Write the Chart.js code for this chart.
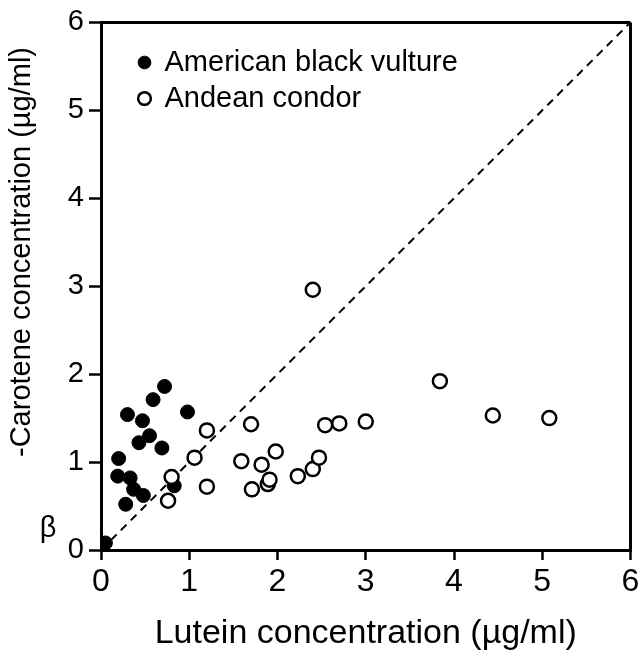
<!DOCTYPE html>
<html>
<head>
<meta charset="utf-8">
<script src="https://cdn.jsdelivr.net/npm/chart.js@4"></script>
<style>
  html, body { margin: 0; padding: 0; background: #fff; }
  #wrap { width: 640px; height: 661px; }
</style>
</head>
<body>
<div id="wrap"><canvas id="carotenoidChart"></canvas></div>
<script>
// Lutein (x) vs beta-carotene (y), values in ug/ml

var vultureLutein   = [0.05, 0.20, 0.19, 0.30, 0.33, 0.37, 0.28, 0.48, 0.43, 0.47, 0.55, 0.59, 0.69, 0.72, 0.83, 0.98];
var vultureCarotene = [0.08, 1.04, 0.84, 1.54, 0.82, 0.69, 0.52, 0.62, 1.22, 1.47, 1.30, 1.71, 1.16, 1.86, 0.73, 1.57];

var condorLutein   = [0.76, 0.80, 1.06, 1.20, 1.20, 1.59, 1.70, 1.71, 1.82, 1.89, 1.91, 1.98, 2.23, 2.40, 2.40, 2.47, 2.54, 2.70, 3.00, 3.84, 4.44, 5.08];
var condorCarotene = [0.56, 0.83, 1.05, 1.36, 0.72, 1.01, 1.43, 0.69, 0.97, 0.75, 0.80, 1.12, 0.84, 0.92, 2.96, 1.05, 1.42, 1.44, 1.46, 1.92, 1.53, 1.50];

var identityLine = [0, 6];
var axisTicks = [0, 1, 2, 3, 4, 5, 6];

var seriesNames = ['American black vulture', 'Andean condor'];
var xTitle = 'Lutein concentration (\u00b5g/ml)';
var yTitle = '-Carotene concentration (\u00b5g/ml)';
var yTitleBeta = '\u03b2';

var FONT = '"Liberation Sans", Arial, sans-serif';

function toPoints(xs, ys) {
    return xs.map(function (x, i) { return { x: x, y: ys[i] }; });
}

// y title is drawn by hand: the beta sits apart from the rest, as in the original
var yTitlePlugin = {
    id: 'yTitle',
    afterDraw: function (chart) {
        var ctx = chart.ctx;
        ctx.save();
        ctx.fillStyle = '#000';
        ctx.font = '29px ' + FONT;
        ctx.textAlign = 'center';
        ctx.textBaseline = 'middle';
        ctx.translate(22, 252);
        ctx.rotate(-Math.PI / 2);
        ctx.fillText(yTitle, 0, 0);
        ctx.restore();

        ctx.save();
        ctx.fillStyle = '#000';
        ctx.font = '29px ' + FONT;
        ctx.textAlign = 'center';
        ctx.textBaseline = 'middle';
        ctx.fillText(yTitleBeta, 48, 529);
        ctx.restore();
    }
};

// legend goes inside the plot, top left
var legendPlace = {
    id: 'legendPlace',
    afterLayout: function (chart) {
        chart.legend.left = 132;
        chart.legend.top = 41;
    }
};

function edgeColor(ctx) {
    return ctx.tick && ctx.tick.value === 6 ? '#000' : 'rgba(0,0,0,0)';
}

var ctx = document.getElementById('carotenoidChart').getContext('2d');
var chart = new Chart(ctx, {
    type: 'scatter',
    data: {
        datasets: [{
            label: seriesNames[0],
            data: toPoints(vultureLutein, vultureCarotene),
            pointRadius: 7,
            pointHoverRadius: 7,
            pointBackgroundColor: '#000',
            pointBorderColor: '#000',
            pointBorderWidth: 1,
            order: 2
        }, {
            label: seriesNames[1],
            data: toPoints(condorLutein, condorCarotene),
            pointRadius: 7,
            pointHoverRadius: 7,
            pointBackgroundColor: '#fff',
            pointBorderColor: '#000',
            pointBorderWidth: 2.5,
            order: 1
        }, {
            label: 'identity',
            type: 'line',
            data: toPoints(identityLine, identityLine),
            borderColor: '#000',
            borderWidth: 2,
            borderDash: [8, 6],
            pointRadius: 0,
            fill: false,
            order: 3
        }]
    },
    options: {
        responsive: true,
        maintainAspectRatio: false,
        animation: false,
        layout: { padding: { top: 20, right: 8, left: 0, bottom: 0 } },
        plugins: {
            tooltip: { enabled: false },
            legend: {
                position: 'chartArea',
                align: 'start',
                labels: {
                    usePointStyle: true,
                    boxWidth: 11,
                    boxHeight: 9,
                    padding: 7,
                    color: '#000',
                    font: { family: FONT, size: 29 },
                    filter: function (item) { return item.datasetIndex < 2; },
                    sort: function (a, b) { return a.datasetIndex - b.datasetIndex; }
                }
            }
        },
        scales: {
            x: {
                type: 'linear',
                min: 0,
                max: 6,
                afterBuildTicks: function (scale) {
                    scale.ticks = axisTicks.map(function (v) { return { value: v }; });
                },
                afterFit: function (scale) {
                    scale.height = 111;
                    scale.paddingLeft = 0;
                    scale.paddingRight = 0;
                },
                border: { display: true, color: '#000', width: 3 },
                grid: {
                    color: edgeColor,
                    lineWidth: 3,
                    tickColor: '#000',
                    tickLength: 10,
                    tickWidth: 2.5
                },
                ticks: {
                    color: '#000',
                    padding: 3,
                    maxRotation: 0,
                    font: { family: FONT, size: 32 }
                },
                title: {
                    display: true,
                    text: xTitle,
                    color: '#000',
                    padding: { top: 0, bottom: 7 },
                    font: { family: FONT, size: 34 }
                }
            },
            y: {
                type: 'linear',
                min: 0,
                max: 6,
                afterBuildTicks: function (scale) {
                    scale.ticks = axisTicks.map(function (v) { return { value: v }; });
                },
                afterFit: function (scale) {
                    scale.width = 101;
                },
                border: { display: true, color: '#000', width: 3 },
                grid: {
                    color: edgeColor,
                    lineWidth: 3,
                    tickColor: '#000',
                    tickLength: 12,
                    tickWidth: 2.5
                },
                ticks: {
                    color: '#000',
                    padding: 5,
                    font: { family: FONT, size: 29 }
                }
            }
        }
    },
    plugins: [legendPlace, yTitlePlugin]
});
</script>
</body>
</html>
